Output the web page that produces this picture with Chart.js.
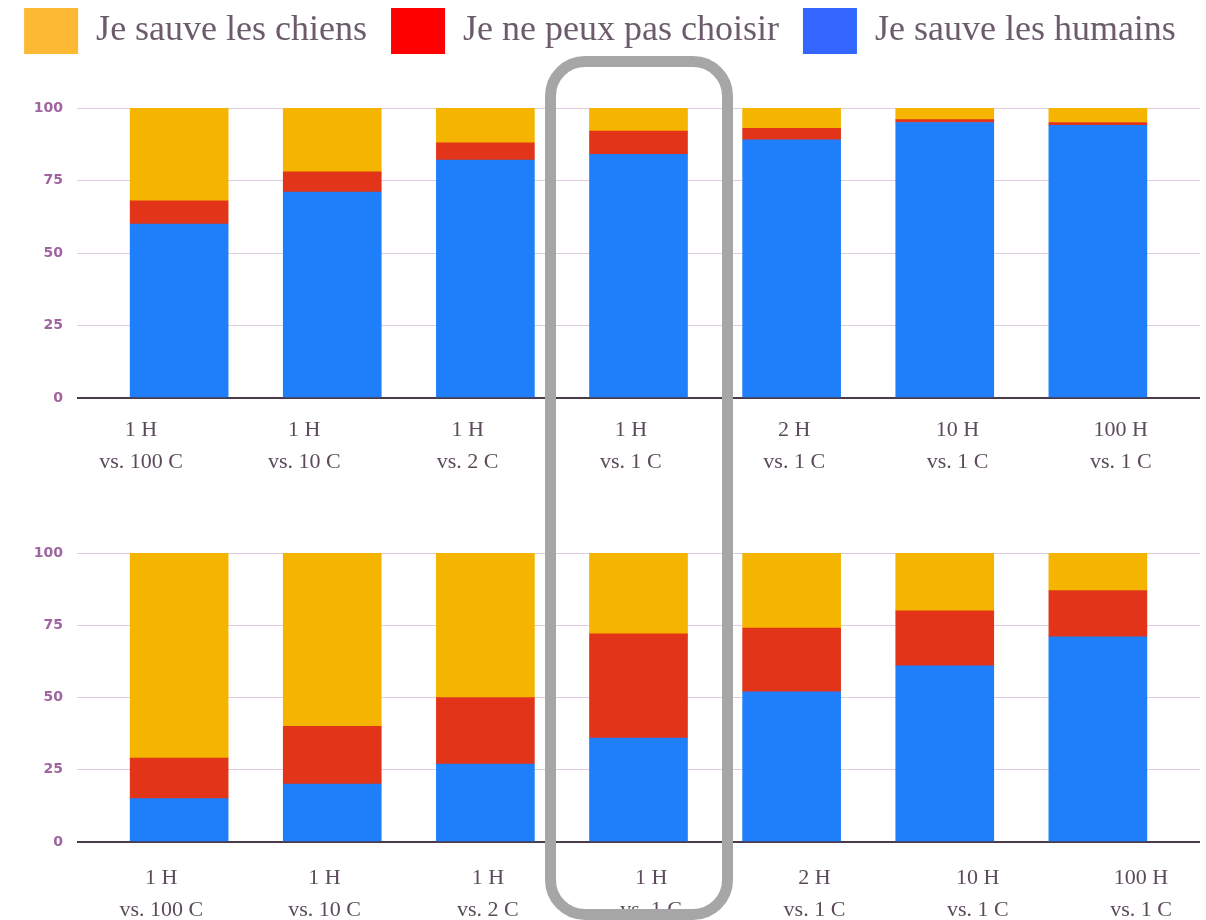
<!DOCTYPE html>
<html>
<head>
<meta charset="utf-8">
<script src="https://cdn.jsdelivr.net/npm/chart.js@4"></script>
<style>
  body { margin: 0; background: #fff; }
  #wrap { position: relative; width: 1206px; height: 920px; overflow: hidden; }
  #topBox { position: absolute; left: 0; top: 0; width: 1206px; height: 485px; }
  #botBox { position: absolute; left: 0; top: 485px; width: 1206px; height: 435px; }
  #focus {
    position: absolute; left: 545px; top: 56px; width: 188px; height: 864px;
    border: 11px solid #a6a6a6; border-radius: 40px; box-sizing: border-box;
    pointer-events: none;
  }
</style>
</head>
<body>
<div id="wrap">
  <div id="topBox"><canvas id="topChart"></canvas></div>
  <div id="botBox"><canvas id="botChart"></canvas></div>
  <div id="focus"></div>
</div>
<script>
// ===== Data =====
const lineOne = ["1 H", "1 H", "1 H", "1 H", "2 H", "10 H", "100 H"];
const lineTwo = ["vs. 100 C", "vs. 10 C", "vs. 2 C", "vs. 1 C", "vs. 1 C", "vs. 1 C", "vs. 1 C"];
const seriesNames = ["Je sauve les humains", "Je ne peux pas choisir", "Je sauve les chiens"];
const yTicks = [0, 25, 50, 75, 100];

// top chart
const topHumans = [60, 71, 82, 84, 89, 95, 94];
const topUndecided = [8, 7, 6, 8, 4, 1, 1];
const topDogs = [32, 22, 12, 8, 7, 4, 5];

// bottom chart
const botHumans = [15, 20, 27, 36, 52, 61, 71];
const botUndecided = [14, 20, 23, 36, 22, 19, 16];
const botDogs = [71, 60, 50, 28, 26, 20, 13];

// ===== Styles =====
const barColors = ["#1f7ffb", "#e13418", "#f4b400"];
const legendColors = ["#3366ff", "#ff0000", "#fdb933"];
const serif = "'Liberation Serif', 'DejaVu Serif', serif";

function toPoints(arr) {
  return arr.map((v, i) => ({ x: i, y: v }));
}

// legend block height is fixed so the plot starts where it should
const legendHeight = {
  id: "legendHeight",
  afterInit(chart, args, opts) {
    const lg = chart.legend;
    if (!lg || !opts.height) return;
    const fit = lg.fit;
    lg.fit = function () { fit.call(this); this.height = opts.height; };
  }
};

// cfg: layout pad, x label band height, label padding, label axis range
function makeChart(canvasId, series, withLegend, cfg) {
  return new Chart(document.getElementById(canvasId), {
    type: "bar",
    plugins: [legendHeight],
    data: {
      datasets: series.map((s, k) => ({
        label: seriesNames[k],
        data: toPoints(s),
        xAxisID: "x",
        backgroundColor: barColors[k],
        barThickness: 98,
        borderWidth: 0
      }))
    },
    options: {
      responsive: true,
      maintainAspectRatio: false,
      animation: false,
      layout: { padding: { top: cfg.pad, right: 6, left: 0, bottom: 0 } },
      plugins: {
        tooltip: { enabled: false },
        legendHeight: { height: withLegend ? 124 : 0 },
        legend: {
          display: withLegend,
          reverse: true,
          labels: {
            boxWidth: 54,
            boxHeight: 46,
            padding: 24,
            color: "#6b5b6b",
            font: { family: serif, size: 36 },
            generateLabels: (chart) =>
              Chart.defaults.plugins.legend.labels.generateLabels(chart).map((l) => ({
                ...l,
                fillStyle: legendColors[l.datasetIndex],
                strokeStyle: legendColors[l.datasetIndex],
                lineWidth: 0
              }))
          }
        }
      },
      scales: {
        x: {
          type: "linear",
          display: false,
          stacked: true,
          offset: false,
          min: -0.667,
          max: 6.667
        },
        labels: {
          type: "linear",
          position: "bottom",
          offset: false,
          min: cfg.labelMin,
          max: cfg.labelMax,
          grid: { display: false },
          border: { display: false },
          afterBuildTicks: (scale) => { scale.ticks = lineOne.map((_, i) => ({ value: i })); },
          afterFit: (scale) => { scale.height = cfg.xHeight; },
          ticks: {
            autoSkip: false,
            maxRotation: 0,
            padding: cfg.labelPad,
            color: "#5b4b5b",
            font: { family: serif, size: 22, lineHeight: 1.45 },
            callback: (v) => [lineOne[v], lineTwo[v]]
          }
        },
        y: {
          stacked: true,
          min: 0,
          max: 100,
          afterBuildTicks: (scale) => { scale.ticks = yTicks.map((v) => ({ value: v })); },
          afterFit: (scale) => { scale.width = 77; },
          border: { display: false },
          grid: {
            drawTicks: false,
            color: (ctx) => ctx.tick && ctx.tick.value === 0 ? "#4a3a4a" : "#e0cce0",
            lineWidth: (ctx) => ctx.tick && ctx.tick.value === 0 ? 2 : 1
          },
          ticks: {
            padding: 14,
            color: "#a064a0",
            font: { family: "'DejaVu Sans', sans-serif", size: 14, weight: "bold" }
          }
        }
      }
    }
  });
}

const topChart = makeChart("topChart", [topHumans, topUndecided, topDogs], true,
  { pad: -16, xHeight: 87, labelPad: 8, labelMin: -0.392, labelMax: 6.485 });
const botChart = makeChart("botChart", [botHumans, botUndecided, botDogs], false,
  { pad: 68, xHeight: 78, labelPad: 12, labelMin: -0.516, labelMax: 6.361 });
</script>
</body>
</html>
